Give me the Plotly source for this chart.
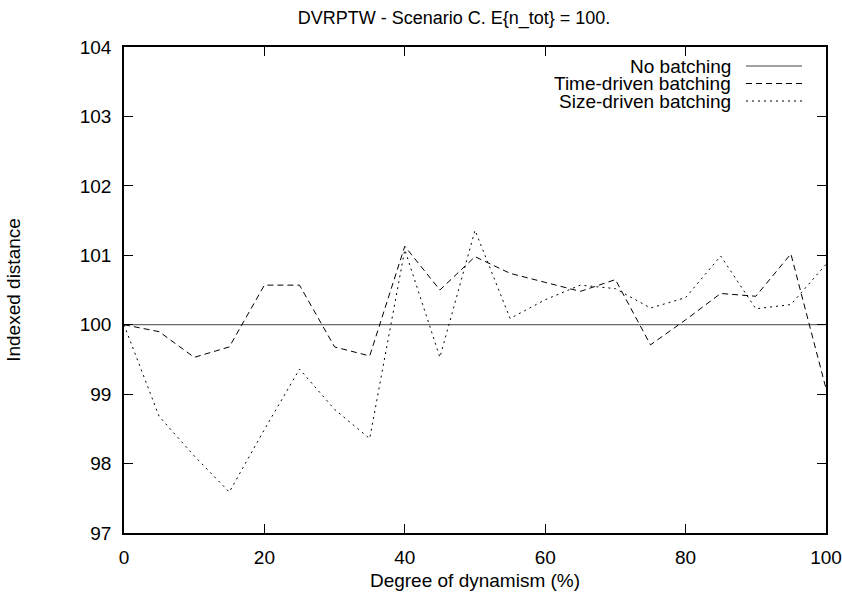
import plotly.graph_objects as go

dynamism = [0, 5, 10, 15, 20, 25, 30, 35, 40, 45, 50, 55, 60, 65, 70, 75, 80, 85, 90, 95, 100]
no_batching = [100] * 21
time_driven = [100, 99.90, 99.53, 99.68, 100.57, 100.57, 99.68, 99.55, 101.13, 100.50, 100.98,
               100.74, 100.61, 100.48, 100.65, 99.71, 100.07, 100.45, 100.41, 101.02, 99.08]
size_driven = [100, 98.68, 98.11, 97.59, 98.49, 99.36, 98.78, 98.36, 101.08, 99.53, 101.36,
               100.09, 100.36, 100.57, 100.52, 100.24, 100.39, 100.99, 100.23, 100.29, 100.87]
series_names = ["No batching", "Time-driven batching", "Size-driven batching"]
x_ticks = [0, 20, 40, 60, 80, 100]
y_ticks = [97, 98, 99, 100, 101, 102, 103, 104]

FONT = "Liberation Sans, Arial, Helvetica, sans-serif"
FS = 19
styles = [dict(color="#444444", width=1, dash="solid"),
          dict(color="black", width=1, dash="6px,4px"),
          dict(color="black", width=1, dash="2px,4px")]

fig = go.Figure()
for name, ys, st in zip(series_names, [no_batching, time_driven, size_driven], styles):
    fig.add_trace(go.Scatter(x=dynamism, y=ys, mode="lines", name=name,
                             line=st, showlegend=False))

# gnuplot-style legend: right-aligned text with sample line on the right
L, R, T, B = 124, 826, 47, 533
W, H = R - L, B - T
rows_py = [66, 83.5, 101]
for name, st, py in zip(series_names, styles, rows_py):
    yp = (B - py) / H
    fig.add_annotation(x=(733 - L) / W, y=yp, xref="paper", yref="paper",
                       text=name, showarrow=False, xanchor="right", yanchor="middle",
                       font=dict(family=FONT, size=FS, color="black"))
    fig.add_shape(type="line", xref="paper", yref="paper",
                  x0=(746 - L) / W, x1=(802 - L) / W, y0=yp, y1=yp, line=st)

axis_common = dict(showline=True, linecolor="black", linewidth=1.5, mirror="ticks",
                   ticks="inside", ticklen=9, tickwidth=1, tickcolor="black",
                   showgrid=False, zeroline=False, automargin=False,
                   tickfont=dict(family=FONT, size=FS, color="black"),
                   title_font=dict(family=FONT, size=FS, color="black"))

fig.update_layout(
    width=842, height=599,
    paper_bgcolor="white", plot_bgcolor="white",
    margin=dict(l=L, r=842 - R, t=T, b=599 - B, autoexpand=False),
    title=dict(text="DVRPTW - Scenario C. E{n_tot} = 100.", x=454 / 842, xref="container",
               xanchor="center", y=1 - 18 / 599, yref="container", yanchor="middle",
               font=dict(family=FONT, size=18, color="black")),
    xaxis=dict(range=[0, 100], tickvals=x_ticks, ticktext=[str(v) for v in x_ticks],
               title=dict(text="Degree of dynamism (%)", standoff=7),
               ticklabelstandoff=6, **axis_common),
    yaxis=dict(range=[97, 104], tickvals=y_ticks, ticktext=[str(v) for v in y_ticks],
               title=dict(text="Indexed distance", standoff=54),
               ticklabelstandoff=7, **axis_common),
)

fig.write_html("out.html", config={"displayModeBar": False},
               post_script="document.body.style.margin='0px';")
